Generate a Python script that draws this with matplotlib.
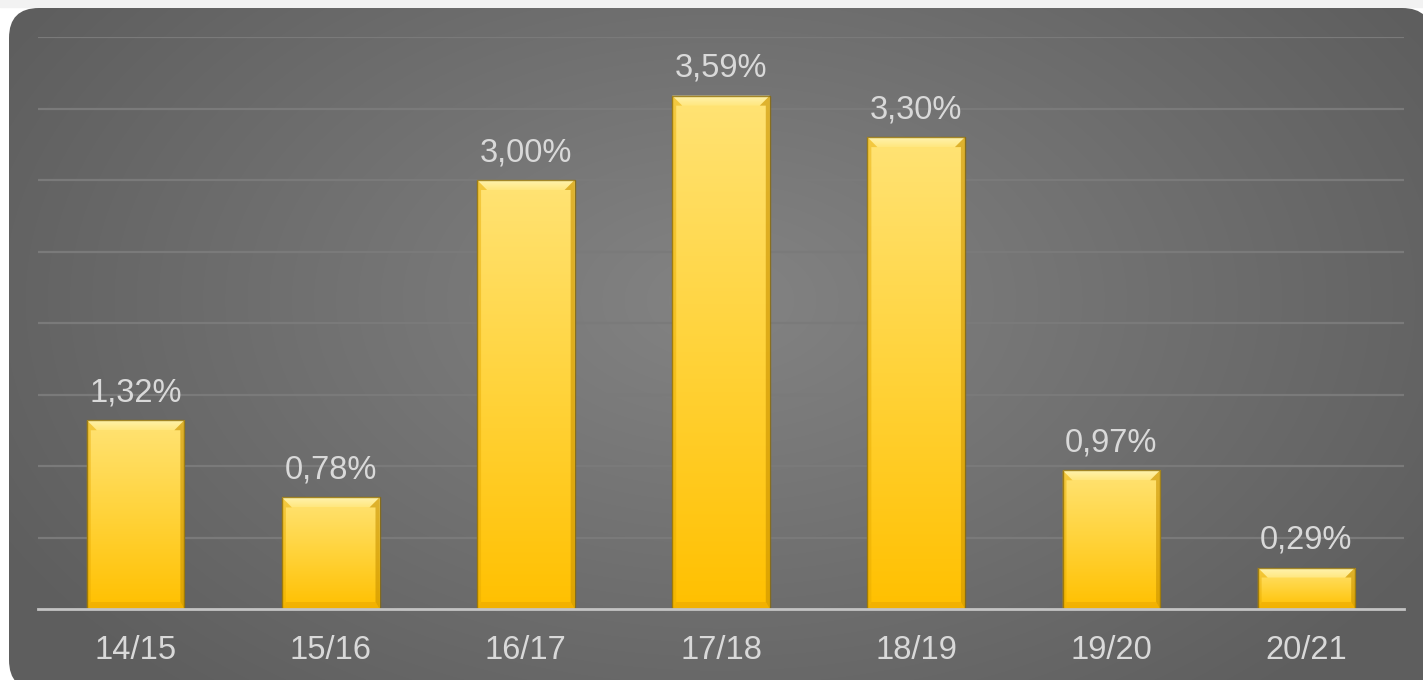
import numpy as np
import matplotlib
matplotlib.use("Agg")
import matplotlib.pyplot as plt
from matplotlib.patches import FancyBboxPatch, Polygon
from matplotlib.colors import LinearSegmentedColormap

# data
seasons = ["14/15", "15/16", "16/17", "17/18", "18/19", "19/20", "20/21"]
values = [1.32, 0.78, 3.00, 3.59, 3.30, 0.97, 0.29]
labels = ["1,32%", "0,78%", "3,00%", "3,59%", "3,30%", "0,97%", "0,29%"]

W, H = 1423, 680
plt.rcParams['font.family'] = ['Liberation Sans', 'DejaVu Sans']
fig = plt.figure(figsize=(W / 100, H / 100), dpi=100)
fig.patch.set_facecolor("white")

# background panel with radial gradient, rounded corners
bg = fig.add_axes([0, 0, 1, 1])
bg.set_xlim(0, W)
bg.set_ylim(H, 0)
bg.axis("off")
yy, xx = np.mgrid[0:H, 0:W]
r = np.sqrt(((xx - 720) / 820.0) ** 2 + ((yy - 300) / 520.0) ** 2)
r = np.clip(r, 0, 1)
shade = 0.515 - (0.515 - 0.37) * r
img = np.dstack([shade, shade, shade])
im = bg.imshow(img, extent=(0, W, H, 0), interpolation="bilinear", zorder=1)
panel = FancyBboxPatch((9 + 30, 8 + 30), 1432 - 9 - 60, 690 - 8 - 60,
                       boxstyle="round,pad=30", transform=bg.transData,
                       facecolor="none", edgecolor="none")
bg.add_patch(panel)
im.set_clip_path(panel)
bg.axhspan(0, 7, color="#f2f2f2", zorder=0)

ax = fig.add_axes([38 / W, 1 - 609 / H, (1404 - 38) / W, (609 - 37) / H])
ax.patch.set_alpha(0)
ax.set_xlim(-0.5, len(seasons) - 0.5)
ax.set_ylim(0, 4.0)
ax.set_yticks(np.arange(0.5, 4.01, 0.5))
ax.yaxis.grid(True, color="#7a7a7a", linewidth=1.6)
ax.set_axisbelow(True)
for s in ["top", "right", "left"]:
    ax.spines[s].set_visible(False)
ax.spines["bottom"].set_color("#c4c4c4")
ax.spines["bottom"].set_linewidth(2)
ax.spines["bottom"].set_zorder(6)
ax.tick_params(axis="y", left=False, labelleft=False)
ax.tick_params(axis="x", length=0, pad=19, labelsize=23.5, labelcolor="#d9d9d9")

x = np.arange(len(seasons))
bars = ax.bar(x, values, width=0.5, color="#ffd040", edgecolor="none", zorder=3)
ax.set_xticks(x)
ax.set_xticklabels(seasons)

gold = LinearSegmentedColormap.from_list("gold", ["#ffc000", "#ffd33a", "#ffe375"])
topbev = LinearSegmentedColormap.from_list("topbev", ["#ffe77e", "#fff3b0"])
grad = np.linspace(0, 1, 256).reshape(-1, 1)
px_x = (len(seasons)) / (1404 - 38)
px_y = 4.0 / (609 - 37)
for bar in bars:
    x0, y0 = bar.get_x(), bar.get_y()
    w, h = bar.get_width(), bar.get_height()
    gi = ax.imshow(grad, cmap=gold, aspect="auto", origin="lower",
                   extent=(x0, x0 + w, y0, y0 + h), zorder=3.5)
    gi.set_clip_path(bar)
    tb = min(10 * px_y, h / 3)
    tx = 10 * px_x
    sx = 4 * px_x
    bb = min(7 * px_y, h / 4)
    # top bevel (light)
    top = Polygon([(x0, y0 + h), (x0 + w, y0 + h), (x0 + w - tx, y0 + h - tb),
                   (x0 + tx, y0 + h - tb)], closed=True, facecolor="none",
                  edgecolor="none", zorder=4)
    ax.add_patch(top)
    ti = ax.imshow(grad, cmap=topbev, aspect="auto", origin="lower",
                   extent=(x0, x0 + w, y0 + h - tb, y0 + h), zorder=4)
    ti.set_clip_path(top)
    # left / right bevel
    ax.add_patch(Polygon([(x0, y0), (x0, y0 + h), (x0 + tx, y0 + h - tb),
                          (x0 + sx, y0 + h - tb), (x0 + sx, y0 + bb), (x0, y0)],
                         closed=True, facecolor="#e6aa00", edgecolor="none",
                         alpha=0.45, zorder=4.2))
    ax.add_patch(Polygon([(x0 + w, y0), (x0 + w, y0 + h), (x0 + w - tx, y0 + h - tb),
                          (x0 + w - sx, y0 + h - tb), (x0 + w - sx, y0 + bb)],
                         closed=True, facecolor="#c89200", edgecolor="none",
                         alpha=0.6, zorder=4.2))
    # bottom bevel
    ax.add_patch(Polygon([(x0, y0), (x0 + w, y0), (x0 + w - sx, y0 + bb),
                          (x0 + sx, y0 + bb)], closed=True,
                         facecolor="#e8a600", edgecolor="none", alpha=0.55, zorder=4.2))
    # outline
    ax.add_patch(Polygon([(x0, y0), (x0, y0 + h), (x0 + w, y0 + h), (x0 + w, y0)],
                         closed=True, facecolor="none", edgecolor="#8c6c08",
                         linewidth=1.0, alpha=0.8, zorder=4.5))

for xi, v, lab in zip(x, values, labels):
    ax.annotate(lab, (xi, v), xytext=(0, 8.5), textcoords="offset points",
                ha="center", va="bottom", fontsize=23.5, color="#d9d9d9", zorder=5)

fig.savefig("out.png", dpi=100, facecolor=fig.get_facecolor())
